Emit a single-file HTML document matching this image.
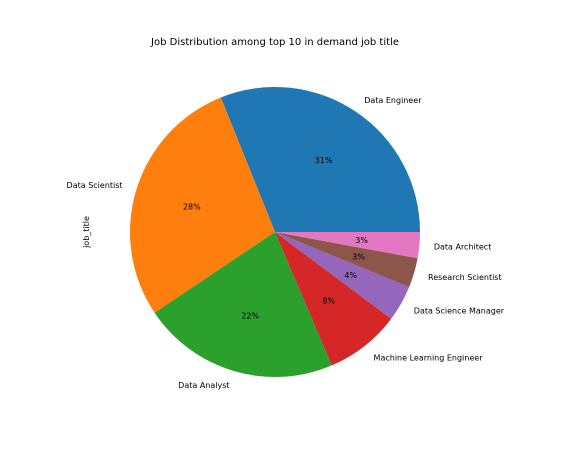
<!DOCTYPE html>
<html><head><meta charset="utf-8"><style>
body{margin:0;background:#fff;}
svg text{font-family:"DejaVu Sans","Liberation Sans",sans-serif;fill:#000;}
</style></head><body>
<svg id="chart" width="565" height="461">
<text x="275" y="45" font-size="10" text-anchor="middle">Job Distribution among top 10 in demand job title</text>
<text transform="translate(89,232) rotate(-90)" font-size="8" text-anchor="middle">job_title</text>
<g id="slices"></g>
</svg>
<script>
const categories=["Data Engineer","Data Scientist","Data Analyst","Machine Learning Engineer","Data Science Manager","Research Scientist","Data Architect"];
const values=[31.1,28.3,22.0,8.4,4.0,3.3,2.9];
const colors=["#1f77b4","#ff7f0e","#2ca02c","#d62728","#9467bd","#8c564b","#e377c2"];
const cx=275,cy=232,r=145;
const g=document.getElementById('slices');
const ns="http://www.w3.org/2000/svg";
const total=values.reduce((a,b)=>a+b,0);
let a0=0;
function pt(a,rr){return [cx+rr*Math.cos(a),cy-rr*Math.sin(a)];}
values.forEach((v,i)=>{
  const a1=a0+v/total*2*Math.PI;
  const p0=pt(a0,r),p1=pt(a1,r);
  const large=(a1-a0)>Math.PI?1:0;
  const path=document.createElementNS(ns,'path');
  path.setAttribute('d',`M${cx},${cy}L${p0[0]},${p0[1]}A${r},${r} 0 ${large} 0 ${p1[0]},${p1[1]}Z`);
  path.setAttribute('fill',colors[i]);
  
  
  g.appendChild(path);
  const am=(a0+a1)/2;
  const lp=pt(am,r*1.1);
  const t=document.createElementNS(ns,'text');
  t.setAttribute('x',lp[0]);t.setAttribute('y',lp[1]+3);
  t.setAttribute('font-size','8');
  t.setAttribute('text-anchor',Math.cos(am)>=0?'start':'end');
  t.textContent=categories[i];
  
  
  g.appendChild(t);
  const pp=pt(am,r*0.6);
  const t2=document.createElementNS(ns,'text');
  t2.setAttribute('x',pp[0]);t2.setAttribute('y',pp[1]+3);
  t2.setAttribute('font-size','8');
  t2.setAttribute('text-anchor','middle');
  t2.textContent=Math.round(v/total*100)+'%';
  
  
  g.appendChild(t2);
  a0=a1;
});
</script>
</body></html>
